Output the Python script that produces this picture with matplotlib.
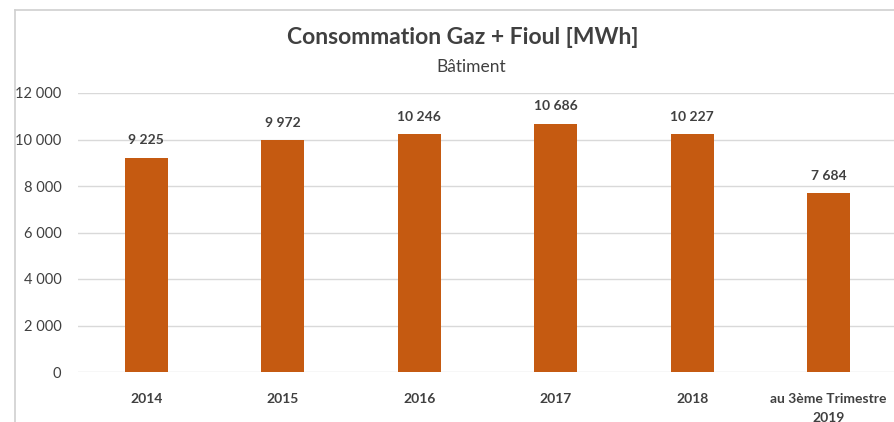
import matplotlib.pyplot as plt
from matplotlib.lines import Line2D

categories = ["2014", "2015", "2016", "2017", "2018", "au 3ème Trimestre\n2019"]
values = [9225, 9972, 10246, 10686, 10227, 7684]
yticks = [0, 2000, 4000, 6000, 8000, 10000, 12000]

plt.rcParams['font.family'] = ['Lato', 'DejaVu Sans']

def fmt(v):
    # séparateur de milliers en espace
    return f"{v:,}".replace(",", " ")

fig = plt.figure(figsize=(8.95, 4.22), dpi=100)
# cadre du graphique (bord gauche et haut)
x0, y0 = 15.5 / 895, 1 - 9.5 / 422
fig.add_artist(Line2D([x0, x0], [0, y0], transform=fig.transFigure,
                      color="#d0d0d0", linewidth=1.2))
fig.add_artist(Line2D([x0, 1], [y0, y0], transform=fig.transFigure,
                      color="#d0d0d0", linewidth=1.2))

ax = fig.add_axes([78 / 895, 50 / 422, 819 / 895, 279 / 422])
x = range(len(categories))
ax.bar(x, values, width=0.315, color="#c55a11", zorder=3)
ax.set_ylim(0, 12000)
ax.set_xlim(-0.5, len(categories) - 0.5)
ax.set_yticks(yticks)
ax.set_yticklabels([fmt(v) for v in yticks], fontsize=10.5, color="#404040")
ax.set_xticks(list(x))
ax.set_xticklabels(categories, fontsize=10, fontweight="bold", color="#404040",
                   linespacing=1.7)
ax.tick_params(length=0, axis="y", pad=12)
ax.tick_params(length=0, axis="x", pad=15)
for s in ax.spines.values():
    s.set_visible(False)
ax.grid(axis="y", color="#d9d9d9", linewidth=1, zorder=0)

for i, v in enumerate(values):
    ax.annotate(fmt(v), (i, v), xytext=(0, 8), textcoords="offset points",
                ha="center", va="bottom", fontsize=10, fontweight="bold",
                color="#404040")

fig.text(463 / 895, 1 - 37 / 422, "Consommation Gaz + Fioul [MWh]", ha="center",
         va="center", fontsize=16.5, fontweight="bold", color="#404040")
fig.text(471 / 895, 1 - 67 / 422, "Bâtiment", ha="center", va="center",
         fontsize=12.5, color="#404040")

fig.savefig("out.png", dpi=100)
